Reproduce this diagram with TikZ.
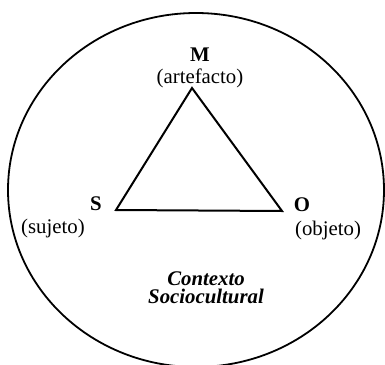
\documentclass[tikz,border=0pt]{standalone}
\usepackage{fontspec}
\setmainfont{Liberation Serif}
\usetikzlibrary{positioning}

\begin{document}
\begin{tikzpicture}[x=0.5pt, y=-0.5pt,
        lbl/.style={inner sep=0pt, font=\fontsize{10.4}{12}\selectfont},
        vtx/.style={inner sep=0pt, font=\fontsize{10.4}{12}\selectfont\bfseries},
        ctx/.style={inner sep=0pt, align=center, font=\fontsize{10.4}{9}\selectfont\bfseries\itshape},
        edge/.style={line width=1pt, line join=miter}
    ]
        \useasboundingbox (0,0) rectangle (385,364);
        % contexto
        \draw[line width=0.9pt] (196,190) ellipse [x radius=188, y radius=177];
        % triangulo
        \coordinate (m) at (192,88);
        \coordinate (s) at (116,210);
        \coordinate (o) at (282,211);
        \draw[edge] (m) -- (s) -- (o) -- cycle;
        \node[lbl] (art) at (200,78) {(artefacto)};
        \node[vtx, above=3pt of art] (mlbl) {M};
        \node[vtx] (slbl) at (96,204) {S};
        \node[lbl] (suj) at (53,228) {(sujeto)};
        \node[vtx] (olbl) at (302,205) {O};
        \node[lbl] (obj) at (328,230) {(objeto)};
        \node[ctx] (soc) at (206,288) {Contexto\\Sociocultural};
    \end{tikzpicture}
\end{document}
